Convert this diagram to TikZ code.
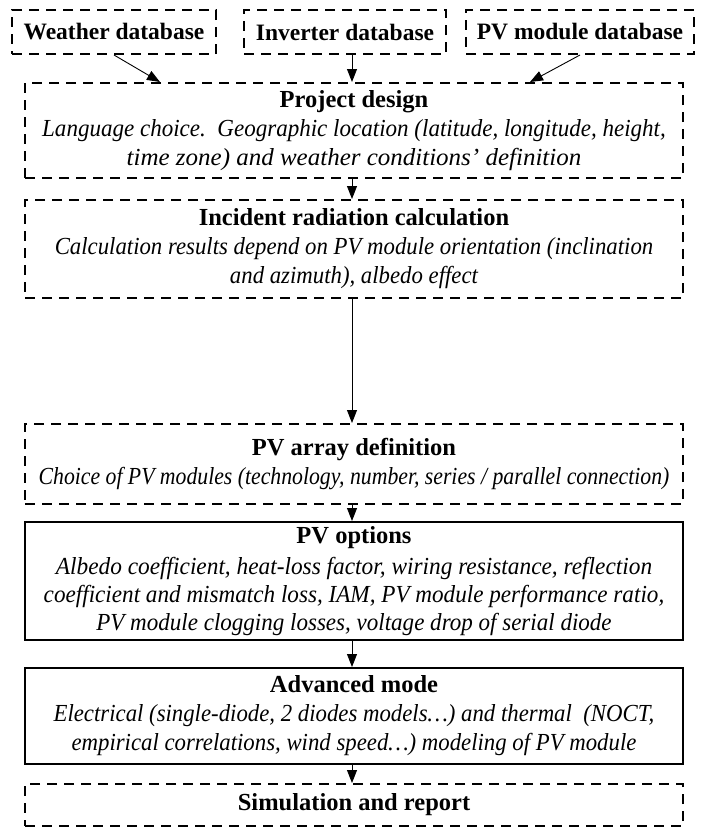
\documentclass[tikz,border=0pt]{standalone}
\usepackage{fontspec}
\setmainfont{Liberation Serif}
\usetikzlibrary{arrows.meta,calc}
\newcommand{\sx}[2]{\scalebox{#1}[1]{#2}}
\begin{document}
\begin{tikzpicture}[x=1pt,y=-1pt,
  dbox/.style={draw,line width=2pt,dash pattern=on 10pt off 7pt,inner sep=0pt,align=center,font=\fontsize{24.5}{29}\selectfont},
  sbox/.style={draw,line width=2pt,inner sep=0pt,align=center,font=\fontsize{24.5}{29}\selectfont},
  topfont/.style={font=\fontsize{23.5}{28}\selectfont},
  arr/.style={line width=0.9pt,-{Triangle[length=13pt,width=10pt]}}]
\useasboundingbox (0,0) rectangle (706,827);
\node[dbox,topfont,minimum width=204pt,minimum height=44pt] (wd) at (114,32) {\bfseries Weather database};
\node[dbox,topfont,minimum width=202pt,minimum height=44pt] (id) at (345,32) {\bfseries Inverter database};
\node[dbox,topfont,minimum width=228pt,minimum height=44pt] (pm) at (580,32) {\bfseries PV module database};
\node[dbox,minimum width=658pt,minimum height=95pt] (pd) at (354,130.5) {{\bfseries Project design}\\\itshape\sx{0.94}{Language choice.\ \ Geographic location (latitude, longitude, height,}\\\itshape\sx{1.02}{time zone) and weather conditions’ definition}};
\node[dbox,minimum width=658pt,minimum height=98pt] (ir) at (354,249) {{\bfseries Incident radiation calculation}\\\itshape\sx{0.93}{Calculation results depend on PV module orientation (inclination}\\\itshape\sx{0.93}{and azimuth), albedo effect}};
\node[dbox,minimum width=658pt,minimum height=80pt] (pa) at (354,464) {{\bfseries PV array definition}\\\itshape\sx{0.887}{Choice of PV modules (technology, number, series / parallel connection)}};
\node[sbox,minimum width=658pt,minimum height=118pt] (po) at (354,581) {{\bfseries PV options}\\[2pt]\itshape\sx{0.952}{Albedo coefficient, heat-loss factor, wiring resistance, reflection}\\[-1pt]\itshape\sx{0.945}{coefficient and mismatch loss, IAM, PV module performance ratio,}\\[-1pt]\itshape\sx{0.94}{PV module clogging losses, voltage drop of serial diode}};
\node[sbox,minimum width=658pt,minimum height=96pt] (am) at (354,716) {{\bfseries Advanced mode}\\\itshape\sx{0.93}{Electrical (single-diode, 2 diodes models…) and thermal\ \ (NOCT,}\\\itshape\sx{0.93}{empirical correlations, wind speed…) modeling of PV module}};
\node[dbox,minimum width=658pt,minimum height=42pt] (sr) at (354,805) {\bfseries Simulation and report};
\coordinate (ax) at (352,0);
\coordinate (lx) at (160,0);
\coordinate (rx) at (530,0);
\draw[arr] (wd.south) -- (pd.north -| lx);
\draw[arr] (id.south -| ax) -- (pd.north -| ax);
\draw[arr] (pm.south) -- (pd.north -| rx);
\draw[arr] (pd.south -| ax) -- (ir.north -| ax);
\draw[arr] (ir.south -| ax) -- (pa.north -| ax);
\draw[arr] (pa.south -| ax) -- (po.north -| ax);
\draw[arr] (po.south -| ax) -- (am.north -| ax);
\draw[arr] (am.south -| ax) -- (sr.north -| ax);
\end{tikzpicture}
\end{document}
